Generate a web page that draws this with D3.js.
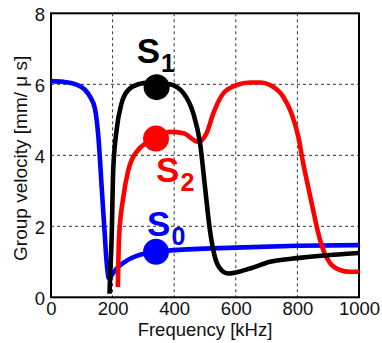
<!DOCTYPE html>
<html>
<head>
<meta charset="utf-8">
<script src="https://cdn.jsdelivr.net/npm/d3@7/dist/d3.min.js"></script>
<style>
  html, body { margin: 0; padding: 0; background: #fff; }
  svg { display: block; font-family: "Liberation Sans", Arial, Helvetica, sans-serif; }
</style>
</head>
<body>
<svg id="chart" width="382" height="343"></svg>
<script>
// Group velocity dispersion curves of the symmetric Lamb modes S0, S1, S2
const xTicks = [0, 200, 400, 600, 800, 1000];
const yTicks = [0, 2, 4, 6, 8];

const s0Freq = [0, 40, 80, 110, 127, 143, 154, 164.5, 175, 180.5, 184, 188, 195, 208, 240, 283, 343, 400, 600, 800, 1000];
const s0Vel  = [6.09, 6.07, 6.0, 5.85, 5.65, 5.3, 4.5, 3.11, 1.7, 1.0, 0.7, 0.53, 0.6, 0.76, 1.0, 1.18, 1.28, 1.33, 1.40, 1.45, 1.47];

const s1Freq = [190, 192, 197, 202, 213, 229, 251, 283, 320, 343, 386, 430, 462, 484, 500, 516, 532, 554, 576, 600, 646, 711, 808, 917, 1000];
const s1Vel  = [0.1, 0.6, 1.7, 3.58, 4.71, 5.46, 5.84, 6.0, 6.05, 6.04, 6.0, 5.75, 5.18, 4.34, 3.11, 1.89, 1.14, 0.76, 0.67, 0.7, 0.81, 1.0, 1.11, 1.2, 1.25];

const s2Freq = [217, 221, 235, 251, 283, 341, 386, 430, 478, 505, 527, 560, 603, 646, 680, 711, 754, 781, 803, 819, 835, 851, 868, 884, 906, 938, 970, 1000];
const s2Vel  = [0.29, 1.7, 2.83, 3.58, 4.15, 4.47, 4.66, 4.62, 4.38, 4.62, 5.18, 5.75, 5.98, 6.05, 6.05, 5.98, 5.65, 5.18, 4.52, 3.77, 3.11, 2.46, 1.80, 1.33, 0.96, 0.77, 0.72, 0.72];

// Highlighted operating points and mode names
const markerModes = ["S0", "S1", "S2"];
const markerFreq = [341, 343, 341];
const markerVel  = [1.28, 5.92, 4.47];
const modeColors = ["#0000ff", "#000000", "#ff0000"];

const svg = d3.select("#chart");
const plot = { left: 51, right: 359, top: 13.3, bottom: 297.3 };

const x = d3.scaleLinear().domain([0, 1000]).range([plot.left, plot.right]);
const y = d3.scaleLinear().domain([0, 8]).range([plot.bottom, plot.top]);

// Dashed grid
const grid = svg.append("g").attr("stroke", "#333").attr("stroke-width", 1).attr("stroke-dasharray", "3,3");
grid.selectAll(".gx").data(xTicks.filter(d => d > 0 && d < 1000)).join("line")
  .attr("x1", d => x(d)).attr("x2", d => x(d))
  .attr("y1", plot.top).attr("y2", plot.bottom);
grid.selectAll(".gy").data(yTicks.filter(d => d > 0 && d < 8)).join("line")
  .attr("x1", plot.left).attr("x2", plot.right)
  .attr("y1", d => y(d)).attr("y2", d => y(d));

// Axes
const xAxis = svg.append("g").attr("transform", `translate(0,${plot.bottom})`)
  .call(d3.axisBottom(x).tickValues(xTicks).tickSize(0).tickPadding(5).tickFormat(d3.format("d")));
const yAxis = svg.append("g").attr("transform", `translate(${plot.left},0)`)
  .call(d3.axisLeft(y).tickValues(yTicks).tickSize(0).tickPadding(6).tickFormat(d3.format("d")));
[xAxis, yAxis].forEach(a => {
  a.select(".domain").remove();
  a.selectAll("text").attr("font-size", 18.5).attr("fill", "#111")
    .attr("font-family", "Liberation Sans, Arial, sans-serif");
});
yAxis.selectAll("text").attr("dy", "0.4em");

// Frame
svg.append("rect")
  .attr("x", plot.left).attr("y", plot.top)
  .attr("width", plot.right - plot.left).attr("height", plot.bottom - plot.top)
  .attr("fill", "none").attr("stroke", "#000").attr("stroke-width", 2);

// Curves
const line = d3.line().x(d => x(d[0])).y(d => y(d[1])).curve(d3.curveMonotoneX);
const series = [
  { f: s0Freq, v: s0Vel, color: modeColors[0] },
  { f: s2Freq, v: s2Vel, color: modeColors[2] },
  { f: s1Freq, v: s1Vel, color: modeColors[1] }
];
series.forEach(s => {
  svg.append("path")
    .datum(d3.zip(s.f, s.v))
    .attr("d", line)
    .attr("fill", "none")
    .attr("stroke", s.color)
    .attr("stroke-width", 4.6)
    .attr("stroke-linejoin", "round")
    .attr("stroke-linecap", "butt");
});

// Markers
svg.selectAll(".marker").data(d3.range(markerModes.length)).join("circle")
  .attr("cx", i => x(markerFreq[i]))
  .attr("cy", i => y(markerVel[i]))
  .attr("r", 13)
  .attr("fill", i => modeColors[i]);

// Mode labels, placed relative to their markers (pixel offsets)
const labelDx = [-9, -20, 0];
const labelDy = [-16, -24, 43];
markerModes.forEach((m, i) => {
  const t = svg.append("text")
    .attr("x", x(markerFreq[i]) + labelDx[i])
    .attr("y", y(markerVel[i]) + labelDy[i])
    .attr("fill", modeColors[i])
    .attr("font-weight", "bold")
    .attr("font-family", "Liberation Sans, Arial, sans-serif");
  t.append("tspan").attr("font-size", 35).text(m[0]);
  t.append("tspan").attr("font-size", 25).attr("dx", 1).attr("dy", 9).text(m.slice(1));
});

// Axis titles
svg.append("text")
  .attr("x", x(500)).attr("y", 336)
  .attr("text-anchor", "middle").attr("font-size", 18.5).attr("fill", "#111")
  .text("Frequency [kHz]");
svg.append("text")
  .attr("transform", `translate(27,${(plot.top + plot.bottom) / 2 + 3}) rotate(-90)`)
  .attr("text-anchor", "middle").attr("font-size", 19).attr("fill", "#111")
  .text("Group velocity [mm/ μ s]");
</script>
</body>
</html>
